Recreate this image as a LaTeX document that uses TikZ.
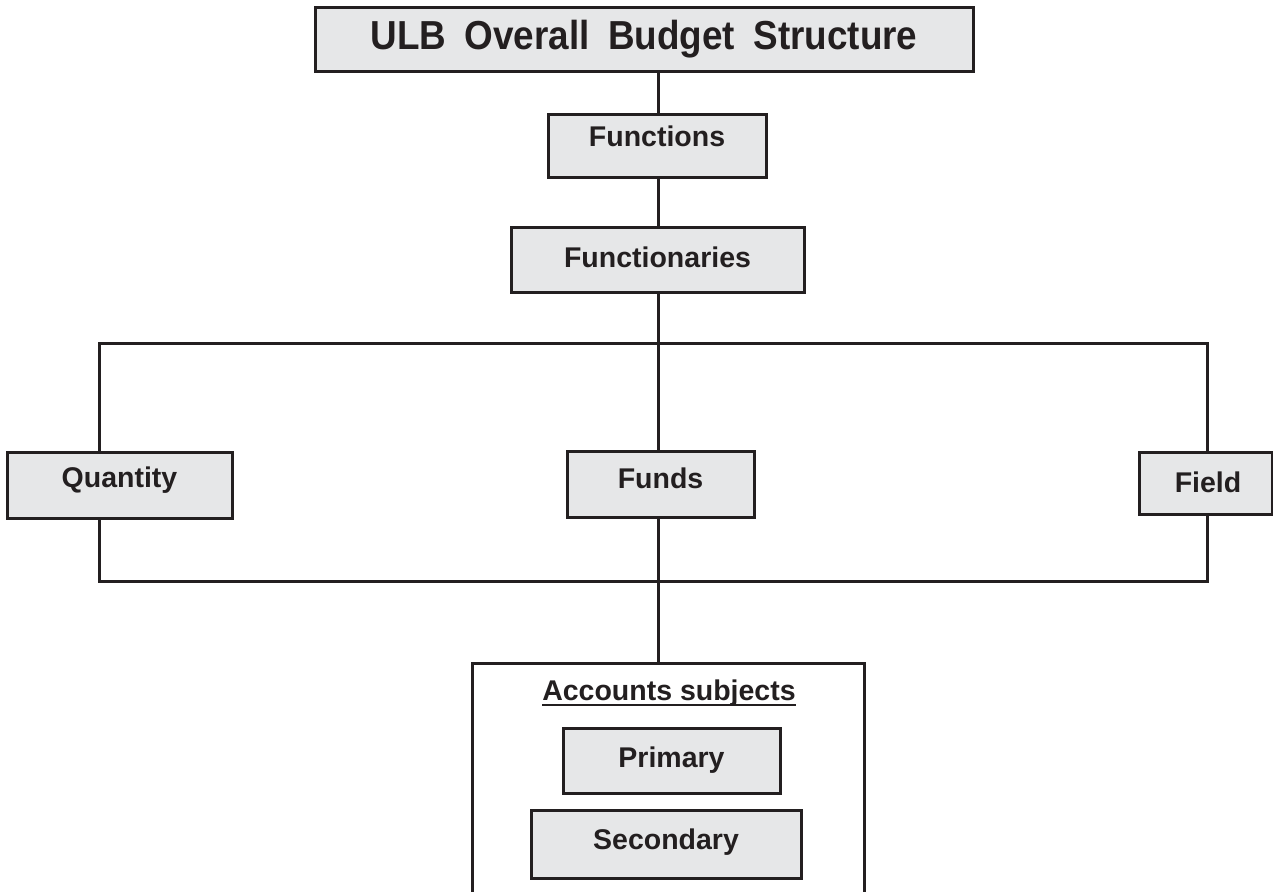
\documentclass[tikz,border=0pt]{standalone}
\usepackage{fontspec}
\setmainfont{Liberation Sans}
\usepackage{graphicx}
\definecolor{ink}{HTML}{231F20}
\definecolor{boxfill}{HTML}{E6E7E8}
\newfontfamily\bodyfont{Liberation Sans}[Scale=1]
\begin{document}
\begin{tikzpicture}[x=1pt,y=-1pt,
  box/.style={draw=ink, fill=boxfill, line width=3pt, inner sep=0pt},
  frame/.style={draw=ink, line width=3pt},
  wire/.style={draw=ink, line width=3pt},
  lbl/.style={text=ink, inner sep=0pt, anchor=base,
    font=\fontsize{28.5}{30}\selectfont\bfseries},
  titlelbl/.style={text=ink, inner sep=0pt, anchor=base,
    font=\fontsize{40.5}{42}\selectfont\bfseries}]
\useasboundingbox (0,0) rectangle (1273,891);
\begin{scope}
\clip (0,0) rectangle (1273,891);

% spine and branch coordinates
\coordinate (spine) at (658,0);
\coordinate (tl) at (99,343);
\coordinate (tr) at (1207,343);
\coordinate (bl) at (99,581);
\coordinate (br) at (1207,581);

% title
\node[box, minimum width=658, minimum height=63] (title) at (644,39.5) {};
\node[titlelbl] (titletext) at (644,50)
  {\scalebox{0.91}[1]{\spaceskip=0.5em\relax ULB Overall Budget Structure}};

% main chain
\node[box, minimum width=218, minimum height=63] (fun) at (657,145.5) {};
\node[lbl] (funtext) at (657,146) {Functions};
\node[box, minimum width=293, minimum height=65] (fny) at (657.5,259.5) {};
\node[lbl] (fnytext) at (657.5,267) {Functionaries};

% three F's
\node[box, minimum width=225, minimum height=66] (qty) at (119.5,485) {};
\node[lbl] (qtytext) at (119.5,487) {Quantity};
\node[box, minimum width=187, minimum height=66] (fund) at (660.5,484) {};
\node[lbl] (fundtext) at (660.5,488) {Funds};
\node[box, minimum width=133, minimum height=62] (fld) at (1205.5,483) {};
\node[lbl] (fldtext) at (1208,492) {Field};

% accounts subjects panel (runs past the lower edge)
\node[frame, fill=white, minimum width=392, minimum height=260, inner sep=0pt] (acc) at (668,793) {};
\node[lbl] (acctext) at (669,700) {Accounts subjects};
\draw[ink, line width=2pt] ([yshift=-4.5pt]acctext.base west) -- ([yshift=-4.5pt]acctext.base east);
\node[box, minimum width=217, minimum height=65] (pri) at (671.5,760.5) {};
\node[lbl] (pritext) at (671.5,767) {Primary};
\node[box, minimum width=270, minimum height=68] (sec) at (666,844) {};
\node[lbl] (sectext) at (666,849) {Secondary};

% connectors
\draw[wire] (title.south -| spine) -- (fun.north -| spine);
\draw[wire] (fun.south -| spine) -- (fny.north -| spine);
\draw[wire] (fny.south -| spine) -- (fund.north -| spine);
\draw[wire] (qty.north -| tl) -- (tl) -- (tr) -- (fld.north -| tr);
\draw[wire] (qty.south -| bl) -- (bl) -- (br) -- (fld.south -| br);
\draw[wire] (fund.south -| spine) -- (acc.north -| spine);
\end{scope}
\end{tikzpicture}
\end{document}
